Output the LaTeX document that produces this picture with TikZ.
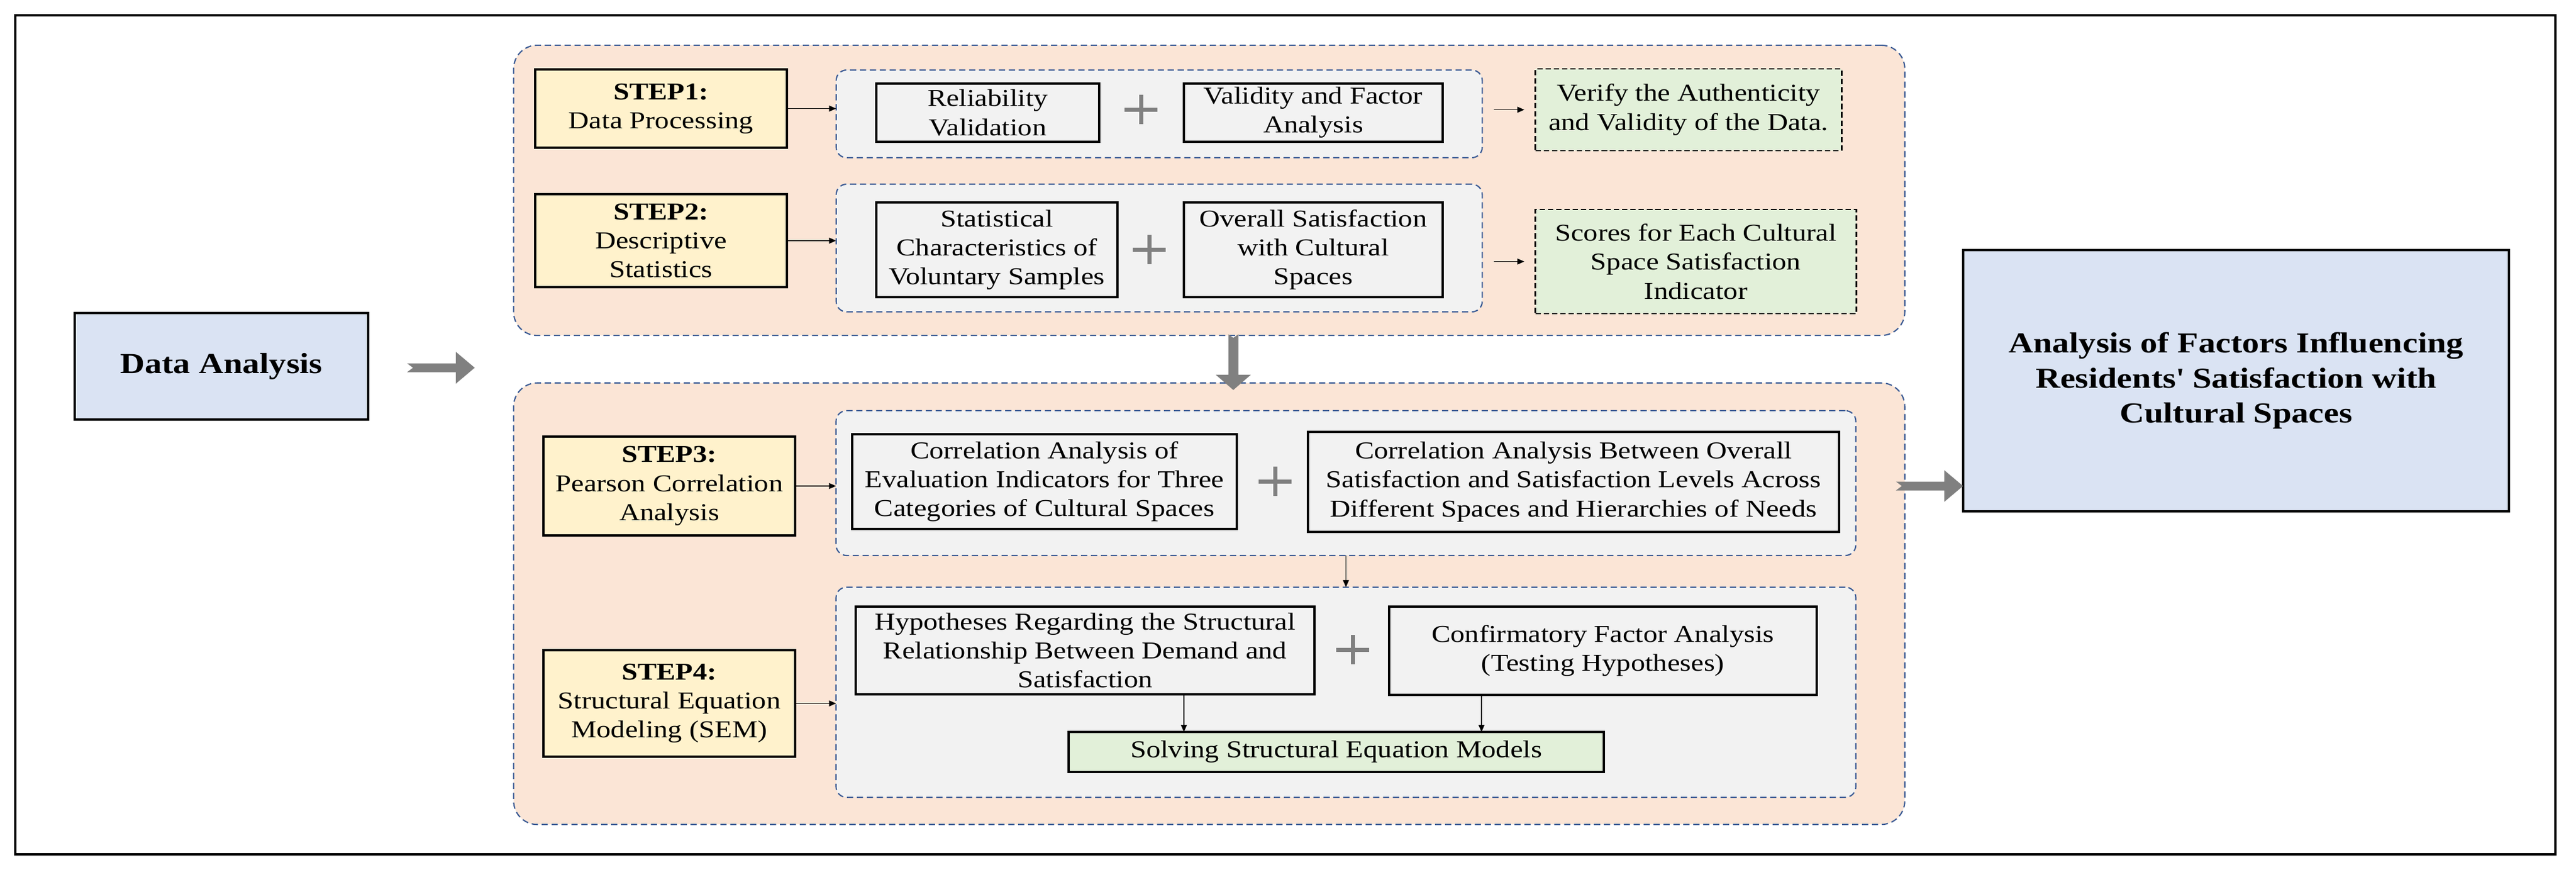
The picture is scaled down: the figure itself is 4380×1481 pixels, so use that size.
\documentclass[tikz,border=0pt]{standalone}
\usepackage{fontspec}
\setmainfont{Liberation Serif}[FakeStretch=1.18]
\usetikzlibrary{arrows.meta,calc}
\definecolor{orangeF}{HTML}{FBE5D6}
\definecolor{grayF}{HTML}{F2F2F2}
\definecolor{yellowF}{HTML}{FFF2CC}
\definecolor{greenF}{HTML}{E2F0D9}
\definecolor{blueF}{HTML}{DAE3F3}
\definecolor{dashblue}{HTML}{3A5A94}
\definecolor{arrowgray}{HTML}{808080}
\tikzset{
  txt/.style={font=\fontsize{11.7pt}{14pt}\selectfont, align=center, inner sep=0pt, outer sep=0pt},
  outergroup/.style={draw=dashblue, line width=0.6pt, dash pattern=on 3pt off 1.8pt, fill=orangeF, rounded corners=0.4cm, inner sep=0pt, outer sep=0pt},
  innergroup/.style={draw=dashblue, line width=0.6pt, dash pattern=on 3pt off 1.8pt, fill=grayF, rounded corners=0.18cm, inner sep=0pt, outer sep=0pt},
  stepbox/.style={txt, draw=black, line width=1.3pt, fill=yellowF},
  itembox/.style={txt, draw=black, line width=1.2pt, fill=grayF},
  resultbox/.style={txt, draw=black, line width=1.2pt, fill=greenF},
  outbox/.style={txt, draw=black, line width=0.8pt, dash pattern=on 2.6pt off 1.4pt, fill=greenF},
  bluebox/.style={txt, draw=black, line width=1.2pt, fill=blueF},
  thinarrow/.style={draw=black, line width=0.5pt, -{Triangle[length=0.12cm, width=0.1cm]}},
  plussign/.style={draw=arrowgray, line width=0.07cm},
}
% notched block arrows: #1 tail coordinate, #2 tip coordinate
\newcommand{\blockarrowH}[2]{%
  \fill[arrowgray] ($(#1)+(0,-7.5)$) -- ($(#2)+(-32,-7.5)$) -- ($(#2)+(-32,-27)$) -- (#2)
    -- ($(#2)+(-32,27)$) -- ($(#2)+(-32,7.5)$) -- ($(#1)+(0,7.5)$) -- ($(#1)+(10,0)$) -- cycle;}
\newcommand{\blockarrowV}[2]{%
  \fill[arrowgray] ($(#1)+(-8.5,0)$) -- ($(#2)+(-8.5,-26)$) -- ($(#2)+(-30,-26)$) -- (#2)
    -- ($(#2)+(30,-26)$) -- ($(#2)+(8.5,-26)$) -- ($(#1)+(8.5,0)$) -- ($(#1)+(0,6)$) -- cycle;}
\begin{document}
\begin{tikzpicture}[x=0.01cm, y=-0.01cm]
\useasboundingbox (0,0) rectangle (4380,1481);
% outer frame
\draw[line width=1.3pt] (26,26) rectangle (4345,1452);

% groups
\node[outergroup, minimum width=23.64cm, minimum height=4.93cm] (og1) at (2056,323.5) {};
\node[outergroup, minimum width=23.64cm, minimum height=7.50cm] (og2) at (2056,1026) {};
\node[innergroup, minimum width=10.98cm, minimum height=1.49cm] (gg1) at (1971,193.5) {};
\node[innergroup, minimum width=10.98cm, minimum height=2.17cm] (gg2) at (1971,421.5) {};
\node[innergroup, minimum width=17.33cm, minimum height=2.46cm] (gg3) at (2288.5,821) {};
\node[innergroup, minimum width=17.33cm, minimum height=3.57cm] (gg4) at (2288.5,1176.5) {};

% main boxes
\node[bluebox, font=\fontsize{14pt}{16pt}\selectfont\bfseries, minimum width=4.99cm, minimum height=1.81cm] (da) at (376.5,622.5) {Data Analysis};
\node[bluebox, font=\fontsize{14pt}{17pt}\selectfont\bfseries, minimum width=9.28cm, minimum height=4.44cm] (res) at (3802,647) {Analysis of Factors Influencing\\Residents\textquotesingle{} Satisfaction with\\Cultural Spaces};

% step boxes
\node[stepbox, minimum width=4.28cm, minimum height=1.33cm] (s1) at (1124,184.5) {\textbf{STEP1:}\\Data Processing};
\node[stepbox, minimum width=4.28cm, minimum height=1.58cm] (s2) at (1124,409) {\textbf{STEP2:}\\Descriptive\\Statistics};
\node[stepbox, minimum width=4.28cm, minimum height=1.68cm] (s3) at (1138,826) {\textbf{STEP3:}\\Pearson Correlation\\Analysis};
\node[stepbox, minimum width=4.28cm, minimum height=1.81cm] (s4) at (1138,1195.5) {\textbf{STEP4:}\\Structural Equation\\Modeling (SEM)};

% item boxes
\node[itembox, minimum width=3.79cm, minimum height=0.99cm] (b1) at (1679.5,191.5) {Reliability\\Validation};
\node[itembox, minimum width=4.40cm, minimum height=0.99cm] (b2) at (2233,191.5) {Validity and Factor\\Analysis};
\node[itembox, minimum width=4.10cm, minimum height=1.61cm] (b3) at (1695,424.5) {Statistical\\Characteristics of\\Voluntary Samples};
\node[itembox, minimum width=4.40cm, minimum height=1.61cm] (b4) at (2233,424.5) {Overall Satisfaction\\with Cultural\\Spaces};
\node[itembox, minimum width=6.54cm, minimum height=1.61cm] (b5) at (1776,818.5) {Correlation Analysis of\\Evaluation Indicators for Three\\Categories of Cultural Spaces};
\node[itembox, minimum width=9.03cm, minimum height=1.70cm] (b6) at (2675.5,819) {Correlation Analysis Between Overall\\Satisfaction and Satisfaction Levels Across\\Different Spaces and Hierarchies of Needs};
\node[itembox, minimum width=7.80cm, minimum height=1.49cm] (b7) at (1845,1105.5) {Hypotheses Regarding the Structural\\Relationship Between Demand and\\Satisfaction};
\node[itembox, minimum width=7.27cm, minimum height=1.50cm] (b8) at (2725.5,1106) {Confirmatory Factor Analysis\\(Testing Hypotheses)};
\node[resultbox, minimum width=9.10cm, minimum height=0.68cm] (b9) at (2272,1278) {Solving Structural Equation Models};

% outcome boxes
\node[outbox, minimum width=5.20cm, minimum height=1.39cm] (g1) at (2871,186.5) {Verify the Authenticity\\and Validity of the Data.};
\node[outbox, minimum width=5.45cm, minimum height=1.77cm] (g2) at (2883.5,444.5) {Scores for Each Cultural\\Space Satisfaction\\Indicator};

% plus signs
\coordinate (p1) at (1940,186);
\coordinate (p2) at (1954,424);
\coordinate (p3) at (2168,818);
\coordinate (p4) at (2300,1104);
\foreach \p in {p1,p2,p3,p4}{
  \draw[plussign] ($(\p)+(-28,0)$) -- ($(\p)+(28,0)$);
  \draw[plussign] ($(\p)+(0,-25)$) -- ($(\p)+(0,25)$);
}

% thin arrows
\draw[thinarrow] (s1.east) -- (s1.east -| gg1.west);
\draw[thinarrow] (s2.east) -- (s2.east -| gg2.west);
\draw[thinarrow] (s3.east) -- (s3.east -| gg3.west);
\draw[thinarrow] (s4.east) -- (s4.east -| gg4.west);
\draw[thinarrow, shorten <=0.2cm, shorten >=0.19cm] (gg1.east |- g1.west) -- (g1.west);
\draw[thinarrow, shorten <=0.2cm, shorten >=0.19cm] (gg2.east |- g2.west) -- (g2.west);
\draw[thinarrow] (gg3.south) -- (gg4.north);
\coordinate (h1) at (2013,0);
\coordinate (h2) at (2519,0);
\draw[thinarrow] (b7.south -| h1) -- (b9.north -| h1);
\draw[thinarrow] (b8.south -| h2) -- (b9.north -| h2);

% big gray block arrows
\coordinate (a1s) at ($(da.east)+(66,2.5)$);
\coordinate (a1e) at ($(da.east)+(181,2.5)$);
\blockarrowH{a1s}{a1e}
\coordinate (a2s) at ($(og1.south)+(41,-2)$);
\coordinate (a2e) at ($(og2.north)+(41,12)$);
\blockarrowV{a2s}{a2e}
\coordinate (a3s) at ($(og2.east |- 0,826)+(-15,0)$);
\coordinate (a3e) at (res.west |- 0,826);
\blockarrowH{a3s}{a3e}
\end{tikzpicture}
\end{document}
